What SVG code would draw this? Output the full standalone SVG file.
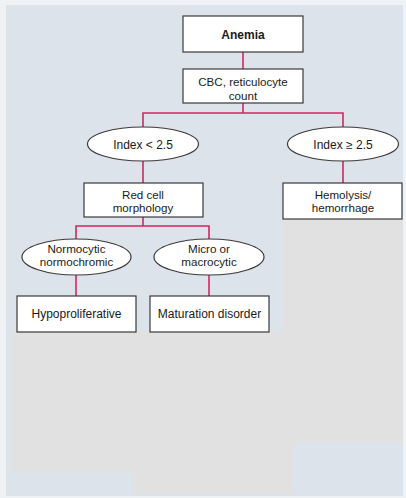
<svg xmlns="http://www.w3.org/2000/svg" width="406" height="498" viewBox="0 0 406 498">
<style>
.box{fill:#ffffff;stroke:#3a3a3a;stroke-width:1.2}
.ell{fill:#ffffff;stroke:#3a3a3a;stroke-width:1.2}
.t{font-family:"Liberation Sans",Arial,sans-serif;font-size:12px;fill:#1a1a1a;text-anchor:middle}
.t2{font-size:11.6px}
.b{font-weight:bold}
#connectors line,#connectors polyline{stroke:#cc2a62;stroke-width:1.6;fill:none}
</style>
<rect x="0" y="0" width="406" height="498" fill="#eef2f5"/>
<rect x="6" y="5" width="397" height="491" fill="#dde3ea"/>
<path d="M282,219 L403,219 L403,443 L294,443 L294,495 L133,495 L133,472 L12,472 L12,332 L282,332 Z" fill="#e1e1e1"/>
<rect x="18" y="472" width="115" height="23" fill="#dde3ea"/>
<g id="connectors">
<line x1="243" y1="52" x2="243" y2="69"/>
<polyline points="243,103 243,113"/>
<polyline points="143,127 143,113 343,113 343,127"/>
<line x1="143" y1="161" x2="143" y2="183"/>
<line x1="343" y1="161" x2="343" y2="183"/>
<line x1="143" y1="217" x2="143" y2="226"/>
<polyline points="76,239 76,226 209,226 209,239"/>
<line x1="76" y1="275" x2="76" y2="296"/>
<line x1="209" y1="275" x2="209" y2="296"/>
</g>
<g id="anemia">
<rect class="box" x="183" y="16" width="120" height="36"/>
<text class="t b" x="243" y="38.5">Anemia</text>
</g>
<g id="cbc">
<rect class="box" x="183" y="69" width="120" height="34"/>
<text class="t t2" x="243" y="86">CBC, reticulocyte</text>
<text class="t t2" x="243" y="99.5">count</text>
</g>
<g id="index-low">
<ellipse class="ell" cx="143" cy="144" rx="55.5" ry="17"/>
<text class="t" x="143" y="148.5">Index &lt; 2.5</text>
</g>
<g id="index-high">
<ellipse class="ell" cx="343" cy="144" rx="55.5" ry="17"/>
<text class="t" x="343" y="148.5">Index ≥ 2.5</text>
</g>
<g id="red-cell">
<rect class="box" x="84" y="183" width="119" height="34"/>
<text class="t t2" x="143" y="198.5">Red cell</text>
<text class="t t2" x="143" y="212">morphology</text>
</g>
<g id="hemolysis">
<rect class="box" x="283" y="183" width="119" height="36"/>
<text class="t t2" x="343" y="198.5">Hemolysis/</text>
<text class="t t2" x="343" y="212">hemorrhage</text>
</g>
<g id="normocytic">
<ellipse class="ell" cx="76.5" cy="257" rx="54.5" ry="18"/>
<text class="t t2" x="76.5" y="252.5">Normocytic</text>
<text class="t t2" x="76.5" y="266">normochromic</text>
</g>
<g id="micro">
<ellipse class="ell" cx="209" cy="257" rx="55" ry="18"/>
<text class="t t2" x="209" y="252.5">Micro or</text>
<text class="t t2" x="209" y="266">macrocytic</text>
</g>
<g id="hypoproliferative">
<rect class="box" x="17" y="296" width="119" height="36"/>
<text class="t" x="76.5" y="318">Hypoproliferative</text>
</g>
<g id="maturation">
<rect class="box" x="150" y="296" width="119" height="36"/>
<text class="t" x="209.5" y="318">Maturation disorder</text>
</g>
</svg>
